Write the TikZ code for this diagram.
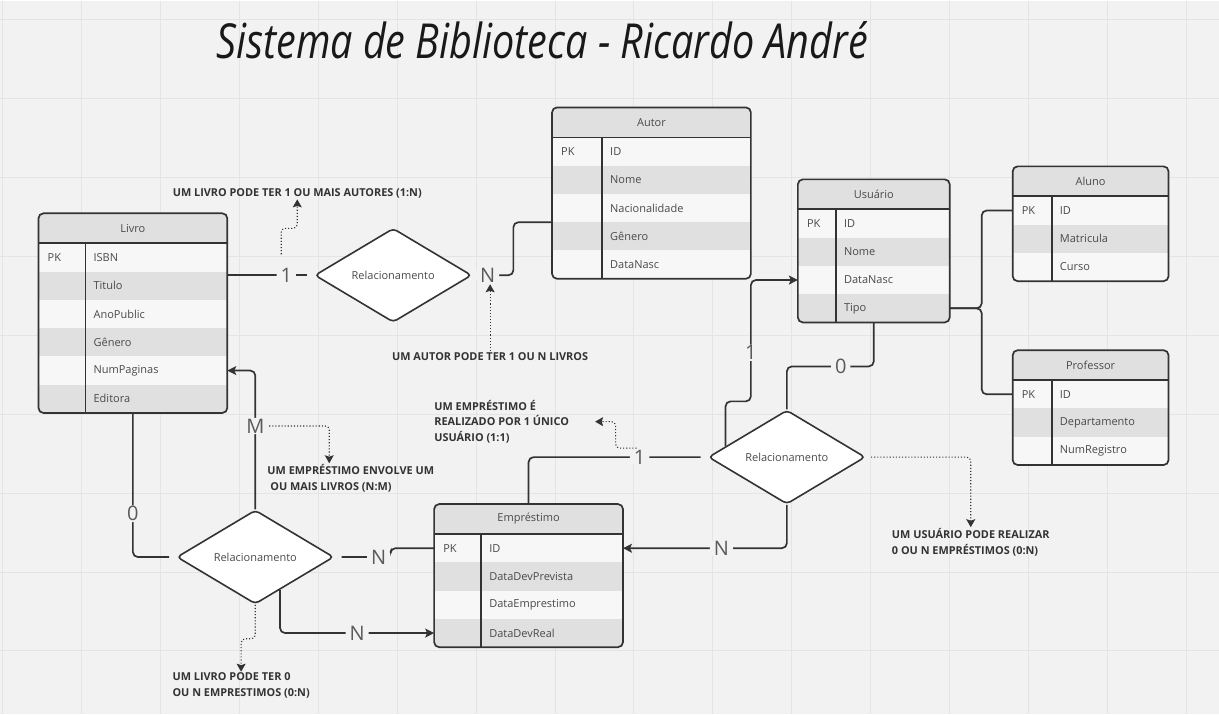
\documentclass[tikz,border=0pt]{standalone}
\usepackage{fontspec}
\setmainfont{Open Sans}
\usepackage{tikz}
\usetikzlibrary{positioning, arrows.meta, shapes.geometric, calc}

\definecolor{bgc}{HTML}{F2F2F2}
\definecolor{gridc}{HTML}{E4E4E4}
\definecolor{linec}{HTML}{333333}
\definecolor{hdrc}{HTML}{E0E0E0}
\definecolor{rowl}{HTML}{F7F7F7}
\definecolor{rowd}{HTML}{E0E0E0}
\definecolor{txtc}{HTML}{4A4A4A}
\definecolor{notec}{HTML}{333333}
\definecolor{lblc}{HTML}{5A5A5A}

\begin{document}
\begin{tikzpicture}[
    x=1pt, y=-1pt,
    tabline/.style={draw=linec, line width=1.7pt},
    hdr/.style={anchor=north west, minimum height=30pt, inner sep=0pt, outer sep=0pt, fill=hdrc, text=txtc, font=\fontsize{11}{13}\selectfont},
    rowbox/.style={minimum height=28.3pt, inner sep=0pt, outer sep=0pt},
    cell/.style={anchor=west, inner sep=0pt, text=txtc, font=\fontsize{11}{13}\selectfont},
    rel/.style={diamond, draw=linec, line width=1.6pt, fill=white, rounded corners=4pt, minimum width=157pt, minimum height=94pt, inner sep=0pt, text=txtc, font=\fontsize{11}{13}\selectfont},
    conn/.style={draw=linec, line width=1.7pt, rounded corners=5pt},
    arr/.style={conn, -{Stealth[length=9pt, width=9pt, inset=2pt]}},
    note/.style={draw=linec, line width=1.1pt, dotted, rounded corners=4pt, -{Stealth[length=8pt, width=9pt, inset=1.5pt]}},
    lbl/.style={fill=bgc, text=lblc, inner xsep=4pt, inner ysep=1pt, font=\fontsize{20}{20}\selectfont},
    notetxt/.style={align=left, inner sep=1pt, text=notec, font=\fontsize{10.9}{15.5}\selectfont\bfseries},
]

% === Canvas and grid ===
\fill[bgc] (0,0) rectangle (1219,714);
\foreach \gx in {2,81,...,1219} \draw[gridc, line width=1pt] (\gx,0) -- (\gx,714);
\foreach \gy in {19,98,...,714} \draw[gridc, line width=1pt] (0,\gy) -- (1219,\gy);
\useasboundingbox (0,0) rectangle (1219,714);

% === Title ===
\node[text=black!90] (title) at (542,40) {\resizebox{652pt}{37pt}{\itshape Sistema de Biblioteca - Ricardo André}};

% === Livro ===
\begin{scope}
  \clip[rounded corners=5pt] (38,213) rectangle ++(189,199.8);
  \node[hdr, minimum width=189pt, alias=livro-0] (livro) at (38,213) {Livro};
  \foreach \k/\f/\c [count=\i] in {PK/ISBN/rowl, {}/Titulo/rowd, {}/AnoPublic/rowl, {}/Gênero/rowd, {}/NumPaginas/rowl, {}/Editora/rowd} {
    \pgfmathtruncatemacro\j{\i-1}
    \node[rowbox, fill=\c, minimum width=189pt, below=0pt of livro-\j] (livro-\i) {};
    \node[cell] (livro-\i-k) at ([xshift=9pt]livro-\i.west) {\k};
    \node[cell] (livro-\i-f) at ([xshift=55pt]livro-\i.west) {\f};
  }
\end{scope}
\draw[tabline] (livro.south west) -- (livro.south east)
               ([xshift=47pt]livro.south west) -- ([xshift=47pt]livro-6.south west);
\draw[tabline, rounded corners=5pt] (livro.north west) rectangle (livro-6.south east);

% === Autor ===
\begin{scope}
  \clip[rounded corners=5pt] (552,107) rectangle ++(199,171.5);
  \node[hdr, minimum width=199pt, alias=autor-0] (autor) at (552,107) {Autor};
  \foreach \k/\f/\c [count=\i] in {PK/ID/rowl, {}/Nome/rowd, {}/Nacionalidade/rowl, {}/Gênero/rowd, {}/DataNasc/rowl} {
    \pgfmathtruncatemacro\j{\i-1}
    \node[rowbox, fill=\c, minimum width=199pt, below=0pt of autor-\j] (autor-\i) {};
    \node[cell] (autor-\i-k) at ([xshift=9pt]autor-\i.west) {\k};
    \node[cell] (autor-\i-f) at ([xshift=58pt]autor-\i.west) {\f};
  }
\end{scope}
\draw[tabline] (autor.south west) -- (autor.south east)
               ([xshift=50pt]autor.south west) -- ([xshift=50pt]autor-5.south west);
\draw[tabline, rounded corners=5pt] (autor.north west) rectangle (autor-5.south east);

% === Usuario ===
\begin{scope}
  \clip[rounded corners=5pt] (798,179) rectangle ++(152,143.2);
  \node[hdr, minimum width=152pt, alias=usuario-0] (usuario) at (798,179) {Usuário};
  \foreach \k/\f/\c [count=\i] in {PK/ID/rowl, {}/Nome/rowd, {}/DataNasc/rowl, {}/Tipo/rowd} {
    \pgfmathtruncatemacro\j{\i-1}
    \node[rowbox, fill=\c, minimum width=152pt, below=0pt of usuario-\j] (usuario-\i) {};
    \node[cell] (usuario-\i-k) at ([xshift=9pt]usuario-\i.west) {\k};
    \node[cell] (usuario-\i-f) at ([xshift=46pt]usuario-\i.west) {\f};
  }
\end{scope}
\draw[tabline] (usuario.south west) -- (usuario.south east)
               ([xshift=38pt]usuario.south west) -- ([xshift=38pt]usuario-4.south west);
\draw[tabline, rounded corners=5pt] (usuario.north west) rectangle (usuario-4.south east);

% === Aluno ===
\begin{scope}
  \clip[rounded corners=5pt] (1013,166) rectangle ++(156,114.9);
  \node[hdr, minimum width=156pt, alias=aluno-0] (aluno) at (1013,166) {Aluno};
  \foreach \k/\f/\c [count=\i] in {PK/ID/rowl, {}/Matricula/rowd, {}/Curso/rowl} {
    \pgfmathtruncatemacro\j{\i-1}
    \node[rowbox, fill=\c, minimum width=156pt, below=0pt of aluno-\j] (aluno-\i) {};
    \node[cell] (aluno-\i-k) at ([xshift=9pt]aluno-\i.west) {\k};
    \node[cell] (aluno-\i-f) at ([xshift=47pt]aluno-\i.west) {\f};
  }
\end{scope}
\draw[tabline] (aluno.south west) -- (aluno.south east)
               ([xshift=39pt]aluno.south west) -- ([xshift=39pt]aluno-3.south west);
\draw[tabline, rounded corners=5pt] (aluno.north west) rectangle (aluno-3.south east);

% === Professor ===
\begin{scope}
  \clip[rounded corners=5pt] (1013,350) rectangle ++(156,114.9);
  \node[hdr, minimum width=156pt, alias=prof-0] (prof) at (1013,350) {Professor};
  \foreach \k/\f/\c [count=\i] in {PK/ID/rowl, {}/Departamento/rowd, {}/NumRegistro/rowl} {
    \pgfmathtruncatemacro\j{\i-1}
    \node[rowbox, fill=\c, minimum width=156pt, below=0pt of prof-\j] (prof-\i) {};
    \node[cell] (prof-\i-k) at ([xshift=9pt]prof-\i.west) {\k};
    \node[cell] (prof-\i-f) at ([xshift=47pt]prof-\i.west) {\f};
  }
\end{scope}
\draw[tabline] (prof.south west) -- (prof.south east)
               ([xshift=39pt]prof.south west) -- ([xshift=39pt]prof-3.south west);
\draw[tabline, rounded corners=5pt] (prof.north west) rectangle (prof-3.south east);

% === Emprestimo ===
\begin{scope}
  \clip[rounded corners=5pt] (434,504) rectangle ++(189,143.2);
  \node[hdr, minimum width=189pt, alias=empr-0] (empr) at (434,504) {Empréstimo};
  \foreach \k/\f/\c [count=\i] in {PK/ID/rowl, {}/DataDevPrevista/rowd, {}/DataEmprestimo/rowl, {}/DataDevReal/rowd} {
    \pgfmathtruncatemacro\j{\i-1}
    \node[rowbox, fill=\c, minimum width=189pt, below=0pt of empr-\j] (empr-\i) {};
    \node[cell] (empr-\i-k) at ([xshift=9pt]empr-\i.west) {\k};
    \node[cell] (empr-\i-f) at ([xshift=55pt]empr-\i.west) {\f};
  }
\end{scope}
\draw[tabline] (empr.south west) -- (empr.south east)
               ([xshift=47pt]empr.south west) -- ([xshift=47pt]empr-4.south west);
\draw[tabline, rounded corners=5pt] (empr.north west) rectangle (empr-4.south east);

% === Relationships ===
\node[rel] (rel1) at (393,275) {Relacionamento};
\node[rel] (rel2) at (787,457) {Relacionamento};
\node[rel] (rel3) at (255,557) {Relacionamento};

% Livro -- Autor
\draw[conn, shorten >=7pt] (rel1.west -| livro-1.east) -- (rel1.west) node[lbl, pos=0.68] (lbl1a) {1};
\draw[conn, shorten <=7pt] (rel1.east) -- ++(41,0) node[lbl, pos=0.37] (lblN1) {N} |- (autor-3.south west);

% Livro -- Emprestimo
\draw[conn, shorten >=7pt] (livro-6.south) |- (rel3.west) node[lbl, pos=0.35] (lbl0a) {0};
\draw[arr] (rel3.north) |- (livro-5.east) node[lbl, pos=0.30] (lblM) {M};
\draw[conn, shorten <=7pt] (rel3.east) -- ++(56,0) node[lbl, pos=0.79] (lblN2) {N} |- (empr-1.west);
\draw[arr] (rel3.-53) |- (empr-4.west) node[lbl, pos=0.75] (lblN3) {N};

% Usuario -- Emprestimo
\draw[conn, shorten >=7pt] (empr.north) |- (rel2.west) node[lbl, pos=0.81] (lbl1b) {1};
\draw[arr] (rel2.south) |- (empr-1.east) node[lbl, pos=0.70] (lblN4) {N};
\draw[arr] (rel2.170) -- ++(0,-45) -| ([xshift=-47pt]usuario-3.west) node[lbl, pos=0.70] (lbl1c) {1} -- (usuario-3.west);
\draw[conn] (rel2.north) -- ++(0,-43) -| (usuario-4.south) node[lbl, pos=0.31] (lbl0b) {0};

% Usuario -- Aluno / Professor
\draw[conn] (usuario-4.east) -- ++(32,0) |- (aluno-1.west);
\draw[conn] (usuario-4.east) -- ++(32,0) |- (prof-1.west);

% === Notes ===
\node[notetxt] (nla) at (297,193) {UM LIVRO PODE TER 1 OU MAIS AUTORES (1:N)};
\node[notetxt] (nal) at (490,356) {UM AUTOR PODE TER 1 OU N LIVROS};
\node[notetxt, anchor=west] (nnm) at (266,478) {UM EMPRÉSTIMO ENVOLVE UM\\\hspace{3pt}OU MAIS LIVROS (N:M)};
\node[notetxt, anchor=west] (nrel) at (433,421.5) {UM EMPRÉSTIMO É\\REALIZADO POR 1 ÚNICO\\USUÁRIO (1:1)};
\node[notetxt, anchor=west] (nus) at (891,542) {UM USUÁRIO PODE REALIZAR\\0 OU N EMPRÉSTIMOS (0:N)};
\node[notetxt, anchor=west] (nln) at (171,685.5) {UM LIVRO PODE TER 0\\OU N EMPRESTIMOS (0:N)};

\draw[note] ([shift={(-5,-12)}]lbl1a.north) -- ++(0,-26) -| (nla.south);
\draw[note] (nal.north) -- (nal.north |- lblN1.south);
\draw[note] (lblM.east) -| ([xshift=63pt]nnm.north west);
\draw[note] ([xshift=-3pt]lbl1b.north) -- ++(-21,0) |- ([xshift=25pt]nrel.east);
\draw[note, shorten <=5pt] (rel2.east) -| (nus.north);
\draw[note] (rel3.south) -- ++(0,34) -| (nln.north);

\end{tikzpicture}
\end{document}
